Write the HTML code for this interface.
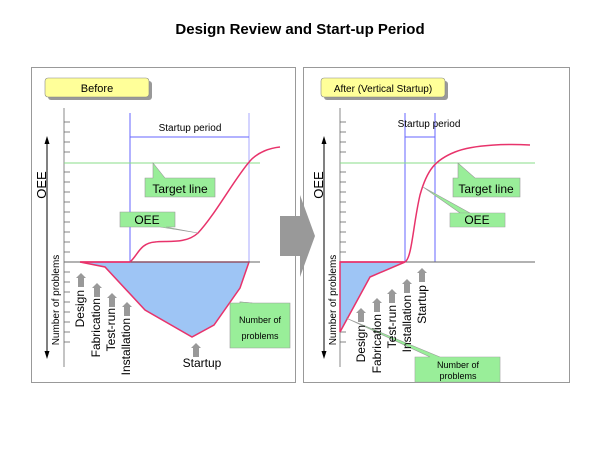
<!DOCTYPE html>
<html><head><meta charset="utf-8"><style>
body{margin:0;background:#fff}
svg{display:block;font-family:"Liberation Sans",sans-serif}
</style></head><body>
<svg width="600" height="450" viewBox="0 0 600 450" xmlns="http://www.w3.org/2000/svg">
<defs>
<marker id="ah" markerWidth="6" markerHeight="6" refX="5" refY="3" orient="auto"><path d="M0,0 L6,3 L0,6 z" fill="#000"/></marker>
<marker id="bh" markerWidth="6" markerHeight="6" refX="5" refY="3" orient="auto"><path d="M0,0 L6,3 L0,6 z" fill="#33f"/></marker>
<g id="up"><path d="M-3,14 L-3,5 L-5,5 L0,0 L5,5 L3,5 L3,14 z" fill="#999"/></g>
</defs>
<text x="300" y="34" text-anchor="middle" font-size="15" font-weight="bold">Design Review and Start-up Period</text>

<!-- panels -->
<rect x="31.5" y="67.5" width="264" height="315" fill="#fff" stroke="#999"/>
<rect x="303.5" y="67.5" width="266" height="315" fill="#fff" stroke="#999"/>

<!-- big arrow -->
<path d="M280,216 L300,216 L300,195 L315,236 L300,277 L300,256 L280,256 z" fill="#999"/>

<!-- LEFT -->
<rect x="48" y="81" width="104" height="19" rx="3" fill="#999"/>
<rect x="45" y="78" width="104" height="19" rx="3" fill="#ffff99" stroke="#888" stroke-width="0.6"/>
<text x="97" y="92" text-anchor="middle" font-size="11">Before</text>
<line x1="64" y1="108" x2="64" y2="367" stroke="#888"/>
<g stroke="#666" stroke-width="0.8">
<line x1="64" y1="122" x2="70" y2="122"/><line x1="64" y1="132" x2="70" y2="132"/><line x1="64" y1="142" x2="70" y2="142"/><line x1="64" y1="152" x2="70" y2="152"/><line x1="64" y1="172" x2="70" y2="172"/><line x1="64" y1="182" x2="70" y2="182"/><line x1="64" y1="192" x2="70" y2="192"/><line x1="64" y1="202" x2="70" y2="202"/><line x1="64" y1="212" x2="70" y2="212"/><line x1="64" y1="222" x2="70" y2="222"/><line x1="64" y1="232" x2="70" y2="232"/><line x1="64" y1="242" x2="70" y2="242"/><line x1="64" y1="252" x2="70" y2="252"/><line x1="64" y1="272" x2="70" y2="272"/><line x1="64" y1="282" x2="70" y2="282"/><line x1="64" y1="292" x2="70" y2="292"/><line x1="64" y1="302" x2="70" y2="302"/><line x1="64" y1="312" x2="70" y2="312"/><line x1="64" y1="322" x2="70" y2="322"/><line x1="64" y1="332" x2="70" y2="332"/><line x1="64" y1="342" x2="70" y2="342"/>
</g>
<line x1="47" y1="140" x2="47" y2="355" stroke="#000" stroke-width="1"/>
<path d="M44.5,144 L47,136 L49.5,144z M44.5,351 L47,359 L49.5,351z" fill="#000"/>
<text transform="translate(46,185) rotate(-90)" text-anchor="middle" font-size="13">OEE</text>
<text transform="translate(59,300) rotate(-90)" text-anchor="middle" font-size="10">Number of problems</text>
<line x1="130" y1="113" x2="130" y2="262" stroke="#66f"/>
<line x1="249" y1="113" x2="249" y2="262" stroke="#aaf"/>
<line x1="130" y1="137" x2="249" y2="137" stroke="#66f"/>
<text x="190" y="131" text-anchor="middle" font-size="10">Startup period</text>
<line x1="64" y1="163" x2="260" y2="163" stroke="#8d8"/>
<path d="M80,262 L105,267 L145,310 L192,337 L214,325 L240,288 L249,262 z" fill="#9ec5f5" stroke="#e8336b" stroke-width="1.5"/>
<line x1="64" y1="262" x2="260" y2="262" stroke="#666"/>
<line x1="80" y1="262" x2="130" y2="262" stroke="#e8336b" stroke-width="1.5"/>
<path d="M130,262 C138,255 140,243 155,242 C165,240 185,245 198,233 C215,215 235,178 250,161 C258,152 270,148 280,147" fill="none" stroke="#e8336b" stroke-width="1.5"/>
<!-- callouts -->
<path d="M145,178 L153,178 L153,163 L165,178 L215,178 L215,197 L145,197 z" fill="#99ee99" stroke="#999" stroke-width="0.6"/>
<text x="180" y="193" text-anchor="middle" font-size="12">Target line</text>
<path d="M120,212 L175,212 L175,227 L166,227 L198,233 L160,227 L120,227 z" fill="#99ee99" stroke="#999" stroke-width="0.6"/>
<text x="147" y="224" text-anchor="middle" font-size="12">OEE</text>
<path d="M230,303 L240,303 L240,302 L253,303 L290,303 L290,348 L230,348 z" fill="#99ee99" stroke="#999" stroke-width="0.6"/>
<path d="M240,303 L240,302 L252,303" fill="#99ee99" stroke="#999" stroke-width="0.6"/>
<text x="260" y="323" text-anchor="middle" font-size="9">Number of</text>
<text x="260" y="339" text-anchor="middle" font-size="9">problems</text>
<use href="#up" x="81" y="273"/><use href="#up" x="97" y="283"/><use href="#up" x="112" y="293"/><use href="#up" x="127" y="302"/><use href="#up" x="196" y="343"/>
<g font-size="12">
<text transform="translate(84,290) rotate(-90)" text-anchor="end">Design</text>
<text transform="translate(100,298) rotate(-90)" text-anchor="end">Fabrication</text>
<text transform="translate(115,308) rotate(-90)" text-anchor="end">Test-run</text>
<text transform="translate(130,318) rotate(-90)" text-anchor="end">Installation</text>
<text x="202" y="367" text-anchor="middle">Startup</text>
</g>

<!-- RIGHT -->
<rect x="324" y="81" width="124" height="19" rx="3" fill="#999"/>
<rect x="321" y="78" width="124" height="19" rx="3" fill="#ffff99" stroke="#888" stroke-width="0.6"/>
<text x="383" y="92" text-anchor="middle" font-size="10">After (Vertical Startup)</text>
<line x1="340" y1="108" x2="340" y2="367" stroke="#888"/>
<g stroke="#666" stroke-width="0.8">
<line x1="340" y1="122" x2="346" y2="122"/><line x1="340" y1="132" x2="346" y2="132"/><line x1="340" y1="142" x2="346" y2="142"/><line x1="340" y1="152" x2="346" y2="152"/><line x1="340" y1="172" x2="346" y2="172"/><line x1="340" y1="182" x2="346" y2="182"/><line x1="340" y1="192" x2="346" y2="192"/><line x1="340" y1="202" x2="346" y2="202"/><line x1="340" y1="212" x2="346" y2="212"/><line x1="340" y1="222" x2="346" y2="222"/><line x1="340" y1="232" x2="346" y2="232"/><line x1="340" y1="242" x2="346" y2="242"/><line x1="340" y1="252" x2="346" y2="252"/><line x1="340" y1="272" x2="346" y2="272"/><line x1="340" y1="282" x2="346" y2="282"/><line x1="340" y1="292" x2="346" y2="292"/><line x1="340" y1="302" x2="346" y2="302"/><line x1="340" y1="312" x2="346" y2="312"/><line x1="340" y1="322" x2="346" y2="322"/><line x1="340" y1="332" x2="346" y2="332"/><line x1="340" y1="342" x2="346" y2="342"/>
</g>
<line x1="324" y1="140" x2="324" y2="355" stroke="#000"/>
<path d="M321.5,144 L324,136 L326.5,144z M321.5,351 L324,359 L326.5,351z" fill="#000"/>
<text transform="translate(323,185) rotate(-90)" text-anchor="middle" font-size="13">OEE</text>
<text transform="translate(336,300) rotate(-90)" text-anchor="middle" font-size="10">Number of problems</text>
<line x1="405" y1="113" x2="405" y2="262" stroke="#66f"/>
<line x1="435" y1="113" x2="435" y2="262" stroke="#66f"/>
<line x1="405" y1="137" x2="435" y2="137" stroke="#66f"/>
<text x="429" y="127" text-anchor="middle" font-size="10">Startup period</text>
<line x1="340" y1="163" x2="535" y2="163" stroke="#8d8"/>
<path d="M340,262 L405,262 L370,277 L340,332 z" fill="#9ec5f5" stroke="#e8336b" stroke-width="1.5"/>
<line x1="340" y1="262" x2="535" y2="262" stroke="#666"/>
<line x1="340" y1="262" x2="405" y2="262" stroke="#e8336b" stroke-width="1.5"/>
<path d="M405,262 C412,258 413,225 420,195 C427,170 435,160 455,152 C475,144 510,144 530,145" fill="none" stroke="#e8336b" stroke-width="1.5"/>
<path d="M453,178 L458,178 L458,163 L475,178 L520,178 L520,197 L453,197 z" fill="#99ee99" stroke="#999" stroke-width="0.6"/>
<text x="486" y="193" text-anchor="middle" font-size="12">Target line</text>
<path d="M450,213 L505,213 L505,227 L450,227 L450,213 L470,213 L423,187 L460,213" fill="#99ee99" stroke="#999" stroke-width="0.6"/>
<rect x="450.3" y="213.3" width="54.4" height="13.4" fill="#99ee99"/>
<text x="477" y="224" text-anchor="middle" font-size="12">OEE</text>
<path d="M346,318 L430,357 L415,357 L415,382 L500,382 L500,357 L440,357 z" fill="#99ee99" stroke="#999" stroke-width="0.6"/>
<rect x="415.3" y="357.3" width="84.4" height="24.4" fill="#99ee99"/>
<text x="458" y="368" text-anchor="middle" font-size="9">Number of</text>
<text x="458" y="379" text-anchor="middle" font-size="9">problems</text>
<use href="#up" x="361" y="308"/><use href="#up" x="377" y="298"/><use href="#up" x="392" y="289"/><use href="#up" x="407" y="279"/><use href="#up" x="422" y="268"/>
<g font-size="12">
<text transform="translate(365,325) rotate(-90)" text-anchor="end">Design</text>
<text transform="translate(381,314) rotate(-90)" text-anchor="end">Fabrication</text>
<text transform="translate(396,305) rotate(-90)" text-anchor="end">Test-run</text>
<text transform="translate(411,295) rotate(-90)" text-anchor="end">Installation</text>
<text transform="translate(426,285) rotate(-90)" text-anchor="end">Startup</text>
</g>
</svg>
</body></html>
